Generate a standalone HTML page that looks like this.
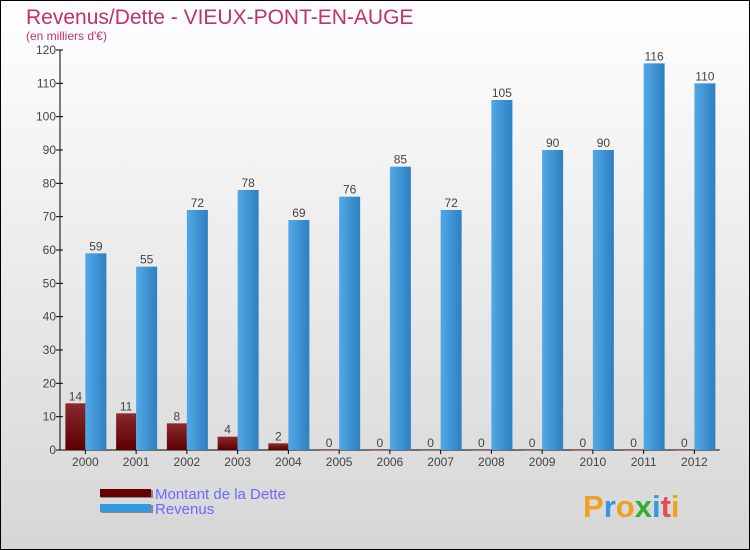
<!DOCTYPE html>
<html><head><meta charset="utf-8"><style>
body{margin:0}
#wrap{width:750px;height:550px;position:relative;box-sizing:border-box;border:1px solid #000;background:linear-gradient(#ffffff,#d6d6d6);font-family:"Liberation Sans",sans-serif;overflow:hidden}
</style></head><body>
<div id="wrap">
<svg id="chart" width="750" height="550" style="position:absolute;left:-1px;top:-1px">
<defs>
<linearGradient id="gd" x1="0" y1="0" x2="0" y2="1"><stop offset="0" stop-color="#8a2a2e"/><stop offset="1" stop-color="#5a0000"/></linearGradient>
<linearGradient id="gr" x1="0" y1="0" x2="1" y2="0"><stop offset="0" stop-color="#52a8e6"/><stop offset="1" stop-color="#2e80c0"/></linearGradient>
</defs>
<text x="26" y="24" font-size="21" fill="#c0306a">Revenus/Dette - VIEUX-PONT-EN-AUGE</text>
<text x="26" y="40" font-size="12" fill="#c0306a">(en milliers d'€)</text>
<g id="g"></g>
<g>
<rect x="101" y="490" width="52" height="8" fill="#888"/><rect x="100" y="489" width="51" height="8" fill="#660000"/>
<text x="155" y="499" font-size="15" fill="#6a6aff">Montant de la Dette</text>
<rect x="101" y="505" width="52" height="8" fill="#888"/><rect x="100" y="504" width="51" height="8" fill="#3399e0"/>
<text x="155" y="514" font-size="15" fill="#6a6aff">Revenus</text>
</g>
<text x="583" y="517" font-size="31" font-weight="bold" fill="#3399e0"><tspan fill="#f0a020">P</tspan><tspan fill="#3399e0">r</tspan><tspan fill="#f0a020">o</tspan><tspan fill="#30b030">x</tspan><tspan fill="#3399e0">i</tspan><tspan fill="#e05050">t</tspan><tspan fill="#f0a020">i</tspan></text>
</svg>
</div>
<script>
const categories=["2000","2001","2002","2003","2004","2005","2006","2007","2008","2009","2010","2011","2012"];
const dette=[14,11,8,4,2,0,0,0,0,0,0,0,0];
const revenus=[59,55,72,78,69,76,85,72,105,90,90,116,110];
const yTicks=[0,10,20,30,40,50,60,70,80,90,100,110,120];
const NS="http://www.w3.org/2000/svg";
const g=document.getElementById('g');
const x0=60,band=50.75,yB=450,yT=50,yMax=120;
function y(v){return yB-(v/yMax)*(yB-yT);}
function xc(i){return x0+band*(i+0.5);}
function mk(t,a,p){const e=document.createElementNS(NS,t);for(const k in a)e.setAttribute(k,a[k]);(p||g).appendChild(e);return e;}
mk('line',{x1:x0,y1:yT,x2:x0,y2:yB,stroke:'#000'});
mk('line',{x1:x0,y1:yB,x2:x0+band*13,y2:yB,stroke:'#000'});
yTicks.forEach(v=>{
 mk('line',{x1:x0-4,y1:y(v),x2:x0+3,y2:y(v),stroke:'#000'});
 const t=mk('text',{x:x0-4,y:y(v)+4,'font-size':12,fill:'#444','text-anchor':'end'});t.textContent=v;
 
 
});
categories.forEach((c,i)=>{
 const cx=xc(i);
 mk('line',{x1:cx,y1:yB,x2:cx,y2:yB+4,stroke:'#000'});
 const t=mk('text',{x:cx,y:yB+16,'font-size':12,fill:'#444','text-anchor':'middle'});t.textContent=c;
 
 
 const d=mk('rect',{x:cx-20,y:y(dette[i]),width:20,height:Math.max(yB-y(dette[i]),0.5),fill:'url(#gd)'});
 
 
 const r=mk('rect',{x:cx,y:y(revenus[i]),width:21,height:yB-y(revenus[i]),fill:'url(#gr)'});
 
 
 const l1=mk('text',{x:cx-10,y:y(dette[i])-3,'font-size':12,fill:'#444','text-anchor':'middle'});l1.textContent=dette[i];
 
 
 const l2=mk('text',{x:cx+10.5,y:y(revenus[i])-3,'font-size':12,fill:'#444','text-anchor':'middle'});l2.textContent=revenus[i];
 
 
});
</script>
</body></html>
